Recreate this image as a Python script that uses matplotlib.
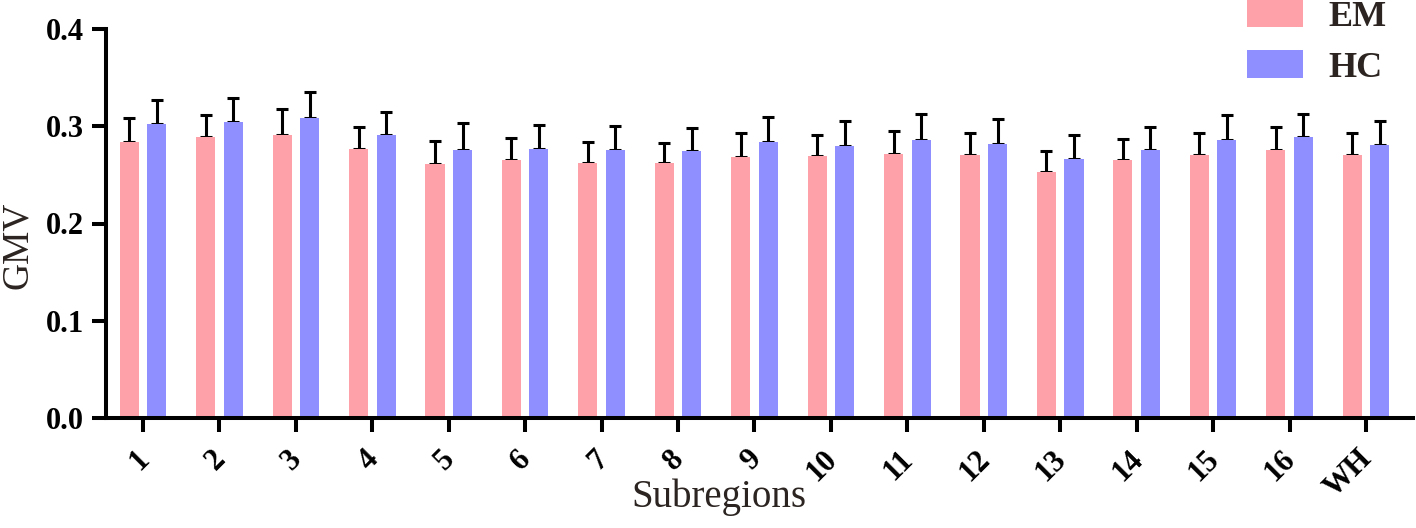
import numpy as np
import matplotlib
matplotlib.use('Agg')
import matplotlib.pyplot as plt
import matplotlib.transforms as mtransforms

# subregion labels
subregions = ['1', '2', '3', '4', '5', '6', '7', '8', '9', '10',
              '11', '12', '13', '14', '15', '16', 'WH']

# mean GMV per group
em_mean = [0.284, 0.289, 0.291, 0.277, 0.261, 0.265, 0.262, 0.262, 0.268,
           0.269, 0.271, 0.270, 0.253, 0.265, 0.270, 0.276, 0.270]
hc_mean = [0.302, 0.304, 0.308, 0.291, 0.276, 0.277, 0.276, 0.275, 0.284,
           0.280, 0.286, 0.282, 0.266, 0.276, 0.286, 0.289, 0.281]

# upper error (SD)
em_err = [0.024, 0.023, 0.027, 0.022, 0.024, 0.023, 0.022, 0.021, 0.025,
          0.022, 0.024, 0.023, 0.022, 0.022, 0.023, 0.023, 0.023]
hc_err = [0.025, 0.025, 0.027, 0.024, 0.027, 0.024, 0.024, 0.023, 0.026,
          0.025, 0.027, 0.025, 0.025, 0.023, 0.026, 0.024, 0.024]

EM_COLOR = '#ffa1a9'
HC_COLOR = '#8f8fff'
TEXT_COLOR = '#2b2421'

plt.rcParams['font.family'] = ['Liberation Serif', 'DejaVu Serif']

fig = plt.figure(figsize=(14.16, 5.28), dpi=100)
ax = fig.add_axes([106 / 1416, 1 - 418 / 528, 1307 / 1416, 389 / 528])

x = np.arange(len(subregions))
w = 0.25
off = 0.18
zeros = np.zeros(len(x))

ax.bar(x - off, em_mean, w, color=EM_COLOR, label='EM', zorder=2)
ax.bar(x + off, hc_mean, w, color=HC_COLOR, label='HC', zorder=2)
err_kw = dict(fmt='none', ecolor='black', elinewidth=2.2, capsize=4.5, capthick=2.2, zorder=1)
ax.errorbar(x - off, em_mean, yerr=[zeros, em_err], **err_kw)
ax.errorbar(x + off, hc_mean, yerr=[zeros, hc_err], **err_kw)

ax.set_xlim(-0.484, 16.615)
ax.set_ylim(0, 0.4)
ax.set_yticks([0.0, 0.1, 0.2, 0.3, 0.4])
ax.set_yticklabels(['0.0', '0.1', '0.2', '0.3', '0.4'])
ax.set_xticks(x)
ax.set_xticklabels(subregions, rotation=45, ha='right')

for s in ['top', 'right']:
    ax.spines[s].set_visible(False)
for s in ['left', 'bottom']:
    ax.spines[s].set_linewidth(2.9)

ax.tick_params(axis='both', length=10, width=2.9, labelsize=22, colors='black')
ax.tick_params(axis='y', pad=6)
ax.tick_params(axis='x', pad=9)
for lab in ax.get_xticklabels() + ax.get_yticklabels():
    lab.set_fontweight('bold')

# shift rotated labels a bit to the right
shift = mtransforms.ScaledTranslation(12 / 100, 0, fig.dpi_scale_trans)
for lab in ax.get_xticklabels():
    lab.set_transform(lab.get_transform() + shift)

fig.text(18 / 1416, 1 - 245 / 528, 'GMV', rotation=90, ha='center', va='center',
         fontsize=27, color=TEXT_COLOR)
fig.text(719 / 1416, 1 - 497 / 528, 'Subregions', ha='center', va='center',
         fontsize=28, color=TEXT_COLOR)

leg = ax.legend(loc='upper left', bbox_to_anchor=(1247 / 1416, 1.0), bbox_transform=fig.transFigure,
                frameon=False, prop={'weight': 'bold', 'size': 26},
                handlelength=1.55, handleheight=0.78, handletextpad=0.7,
                labelspacing=0.45, borderpad=0, borderaxespad=0)
for t in leg.get_texts():
    t.set_color(TEXT_COLOR)

fig.savefig('out.png', dpi=100)
